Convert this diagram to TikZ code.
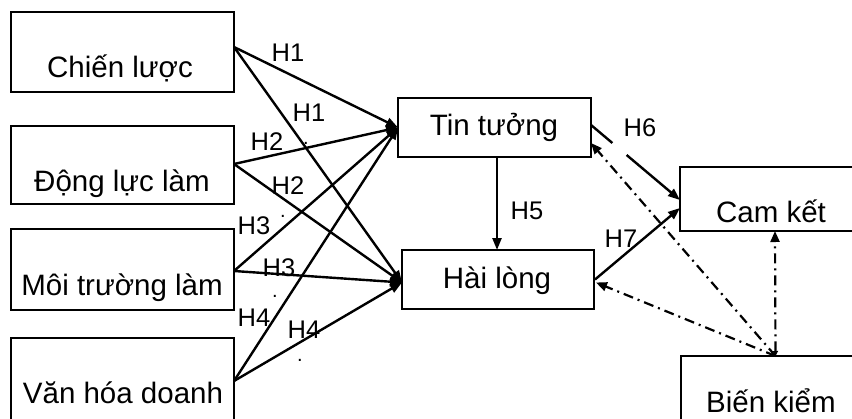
\documentclass[tikz,border=0pt]{standalone}
\usepackage{fontspec}
\setmainfont{Liberation Sans}
\usetikzlibrary{arrows.meta,calc}
\tikzset{
  box/.style={draw, line width=2.2pt, inner sep=0pt, outer sep=0pt},
  boxtext/.style={anchor=base, inner sep=0pt, font=\fontsize{29.5}{31}\selectfont},
  hlab/.style={inner sep=0pt, font=\fontsize{25.5}{27}\selectfont},
  dotlab/.style={anchor=base, inner sep=0pt, font=\fontsize{20}{22}\selectfont},
  conn/.style={line width=2.4pt, -{Triangle[length=12pt,width=9pt]}},
  plain/.style={line width=2.4pt},
  ctrl/.style={line width=2.2pt, dash pattern=on 10pt off 5pt on 2pt off 5pt, -{Triangle[length=11pt,width=9pt]}},
}
\begin{document}
\begin{tikzpicture}[x=1pt,y=-1pt]
\useasboundingbox (0,0) rectangle (852,418);
\clip (0,0) rectangle (852,418);

% boxes
\node[box, minimum width=223pt, minimum height=80pt] (cl) at (122.5,52) {};
\node[box, minimum width=223pt, minimum height=78pt] (dl) at (122.5,165) {};
\node[box, minimum width=223pt, minimum height=81pt] (mt) at (122.5,269.5) {};
\node[box, minimum width=223pt, minimum height=90pt] (vh) at (122.5,383) {};
\node[box, minimum width=193pt, minimum height=59pt] (tt) at (494.5,127.5) {};
\node[box, minimum width=192pt, minimum height=59pt] (hl) at (498,279.5) {};
\node[box, minimum width=190pt, minimum height=64pt] (ck) at (775,199) {};
\node[box, minimum width=189pt, minimum height=80pt] (bk) at (775.5,396) {};

% box texts
\node[boxtext] (tcl) at (120,77) {Chiến lược};
\node[boxtext] (tdl) at (122,191) {Động lực làm};
\node[boxtext] (tmt) at (122,295) {Môi trường làm};
\node[boxtext] (tvh) at (123,403) {Văn hóa doanh};
\node[boxtext] (ttt) at (494,135) {Tin tưởng};
\node[boxtext] (thl) at (497,288) {Hài lòng};
\node[boxtext] (tck) at (771,222) {Cam kết};
\node[boxtext] (tbk) at (771,412) {Biến kiểm};

% connector end points
\coordinate (s1) at ([yshift=5pt]cl.east);
\coordinate (s2) at ([yshift=1pt]dl.east);
\coordinate (s3) at ([yshift=-1.5pt]mt.east);
\coordinate (s4) at ([yshift=2pt]vh.east);
\coordinate (etl) at (tt.west);
\coordinate (ehl) at ([yshift=-3pt]hl.west);

\draw[conn] (s1) -- (etl);
\draw[conn] (s1) -- (ehl);
\draw[conn] (s2) -- (etl);
\draw[conn] (s2) -- (ehl);
\draw[conn] (s3) -- (etl);
\draw[conn] (s3) -- (ehl);
\draw[conn] (s4) -- (etl);
\draw[conn] (s4) -- (ehl);

% H5
\draw[conn] ([xshift=2.5pt]tt.south) -- ([xshift=-1pt]hl.north);
% H6 (with gap)
\coordinate (h6a) at ([yshift=2.5pt]tt.east);
\coordinate (h6b) at ([yshift=-1pt]ck.west);
\draw[plain] (h6a) -- ($(h6a)!0.24!(h6b)$);
\draw[conn] ($(h6a)!0.40!(h6b)$) -- (h6b);
% H7
\draw[conn] ([xshift=1pt]hl.east) -- ([yshift=-9pt]ck.west);

% control variable
\coordinate (bkt) at (bk.north);
\draw[ctrl] (bkt) -- ([yshift=14pt]tt.south east);
\draw[ctrl] (bkt) -- ([xshift=2pt,yshift=-3pt]hl.east);
\draw[ctrl, {Triangle[length=5pt,width=5pt]}-{Triangle[length=11pt,width=9pt]}] (bkt) -- (ck.south);

% labels
\node[hlab] (l1a) at (288,53) {H1};
\node[hlab] (l1b) at (309,113) {H1};
\node[hlab] (l2a) at (267,142) {H2};
\node[hlab] (l2b) at (288,186) {H2};
\node[hlab] (l3a) at (254,226) {H3};
\node[hlab] (l3b) at (279,268) {H3};
\node[hlab] (l4a) at (254,318) {H4};
\node[hlab] (l4b) at (304,330) {H4};
\node[hlab] (l5) at (527,211) {H5};
\node[hlab] (l6) at (640,128) {H6};
\node[hlab] (l7) at (621,239) {H7};

% stray dots
\node[dotlab] (d1) at (306,144) {.};
\node[dotlab] (d2) at (283,217) {.};
\node[dotlab] (d3) at (275,297) {.};
\node[dotlab] (d4) at (300,361) {.};
\end{tikzpicture}
\end{document}
